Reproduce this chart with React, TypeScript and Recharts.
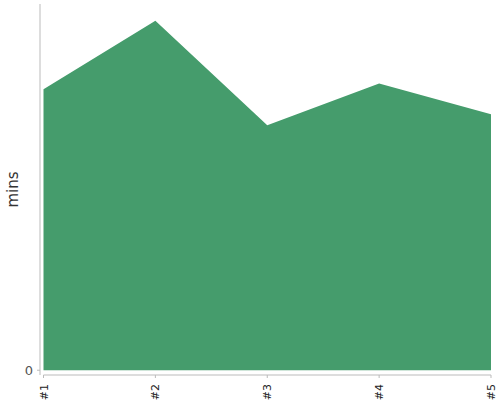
import { AreaChart, Area, XAxis, YAxis, ReferenceLine } from 'recharts';

// values (arbitrary minutes scale, only 0 is labelled)
const runs = ['#1', '#2', '#3', '#4', '#5'];
const mins = [76.7, 95.4, 66.9, 78.3, 69.9];
const yTicks = [0];
const yMin = -1.3;
const yMax = 100;

const data = runs.map((run, i) => ({ run, mins: mins[i] }));

const XTick = ({ x, y, payload }: any) => (
    <text
        transform={`translate(${x + 4},${y + 6}) rotate(-90)`}
        textAnchor="end"
        fontSize={11}
        fill="#222"
        fontFamily="DejaVu Sans, sans-serif"
    >
        {payload.value}
    </text>
);

const App = () => {
    return (
        <div style={{ position: 'absolute', left: 0, top: 0, width: 500, height: 400, background: '#fff' }}>
            <AreaChart
                width={500}
                height={400}
                data={data}
                margin={{ top: 4, right: 9, left: 0, bottom: 0 }}
            >
                <XAxis
                    dataKey="run"
                    height={25}
                    padding={{ left: 3.5 }}
                    axisLine={false}
                    tickLine={{ stroke: '#bbb' }}
                    tickSize={3}
                    tickMargin={0}
                    interval={0}
                    tick={<XTick />}
                />
                <YAxis
                    width={40}
                    domain={[yMin, yMax]}
                    ticks={yTicks}
                    allowDataOverflow
                    axisLine={{ stroke: '#bbb' }}
                    tickLine={{ stroke: '#bbb' }}
                    tickSize={3}
                    tickMargin={4}
                    tick={{ fontSize: 13, fill: '#555', fontFamily: 'DejaVu Sans, sans-serif' }}
                    label={{
                        value: 'mins',
                        angle: -90,
                        position: 'insideLeft',
                        offset: 13,
                        style: { fontSize: 15, fill: '#333', fontFamily: 'DejaVu Sans, sans-serif', textAnchor: 'middle' },
                    }}
                />
                <ReferenceLine
                    segment={[{ x: runs[0], y: yMin }, { x: runs[runs.length - 1], y: yMin }]}
                    stroke="#bbb"
                    ifOverflow="visible"
                />
                <Area
                    type="linear"
                    dataKey="mins"
                    stroke="none"
                    fill="#459c6c"
                    fillOpacity={1}
                    isAnimationActive={false}
                />
            </AreaChart>
        </div>
    );
};

export default App;
